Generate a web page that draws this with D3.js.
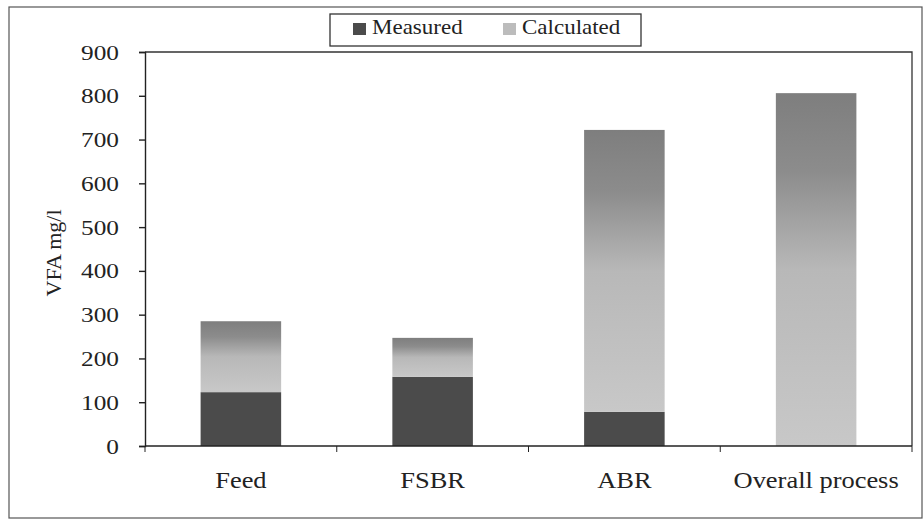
<!DOCTYPE html>
<html>
<head>
<meta charset="utf-8">
<script src="https://cdn.jsdelivr.net/npm/d3@7"></script>
<style>
  body { margin: 0; background: #fff; }
  text { font-family: "Liberation Serif", "Times New Roman", Times, serif; fill: #222; }
</style>
</head>
<body>
<svg id="chart"></svg>
<script>
const width = 924;
const height = 522;

const categories = ["Feed", "FSBR", "ABR", "Overall process"];
const measured = [123, 158, 78, 0];
const calculated = [162, 89, 644, 806];
const seriesNames = ["Measured", "Calculated"];
const yTicks = [0, 100, 200, 300, 400, 500, 600, 700, 800, 900];

const margin = { left: 145, right: 12, top: 52, bottom: 76 };
const stretch = 1.15; // scanned text is a little wider than the font

const svg = d3.select("#chart")
  .attr("width", width)
  .attr("height", height);

// gradient for the scanned "calculated" fill
const defs = svg.append("defs");
const grad = defs.append("linearGradient")
  .attr("id", "calcFill")
  .attr("x1", 0).attr("y1", 0).attr("x2", 0).attr("y2", 1);
grad.append("stop").attr("offset", "0").attr("stop-color", "#7e7e7e");
grad.append("stop").attr("offset", "0.22").attr("stop-color", "#8c8c8c");
grad.append("stop").attr("offset", "0.5").attr("stop-color", "#b8b8b8");
grad.append("stop").attr("offset", "1").attr("stop-color", "#c8c8c8");

const colors = { Measured: "#4b4b4b", Calculated: "url(#calcFill)" };

// outer frame
svg.append("rect")
  .attr("x", 9).attr("y", 7)
  .attr("width", 913).attr("height", 511)
  .attr("fill", "none")
  .attr("stroke", "#555")
  .attr("stroke-width", 1.2);

const x = d3.scaleBand()
  .domain(categories)
  .range([margin.left, width - margin.right])
  .paddingInner(0.58)
  .paddingOuter(0.29);

const y = d3.scaleLinear()
  .domain([0, 900])
  .range([height - margin.bottom, margin.top]);

// plot frame: top and right
svg.append("path")
  .attr("d", `M${margin.left},${margin.top}H${width - margin.right}V${height - margin.bottom}`)
  .attr("fill", "none")
  .attr("stroke", "#333")
  .attr("stroke-width", 1.3);

const rows = categories.map((c, i) => ({ cat: c, Measured: measured[i], Calculated: calculated[i] }));
const stacked = d3.stack().keys(seriesNames)(rows);

svg.append("g")
  .selectAll("g")
  .data(stacked)
  .join("g")
  .attr("fill", d => colors[d.key])
  .selectAll("rect")
  .data(d => d.filter(p => p[1] > p[0]))
  .join("rect")
  .attr("x", d => x(d.data.cat))
  .attr("y", d => y(d[1]))
  .attr("width", x.bandwidth())
  .attr("height", d => y(d[0]) - y(d[1]));

// y axis
const yAxis = svg.append("g")
  .attr("transform", `translate(${margin.left},0)`)
  .call(d3.axisLeft(y).tickValues(yTicks).tickSize(6).tickFormat(d3.format("d")));
yAxis.attr("font-family", null);
yAxis.selectAll("text")
  .attr("font-size", 22)
  .attr("x", 0)
  .attr("transform", `translate(-26,0) scale(${stretch},1)`);
yAxis.selectAll("line, path").attr("stroke", "#222").attr("stroke-width", 1.4);

// x axis with ticks between categories
const xAxisG = svg.append("g")
  .attr("transform", `translate(0,${height - margin.bottom})`);
xAxisG.append("line")
  .attr("x1", margin.left).attr("x2", width - margin.right)
  .attr("stroke", "#222").attr("stroke-width", 1.4);
const step = x.step();
const edges = categories.map(c => x(c) - (step - x.bandwidth()) / 2).concat([width - margin.right]);
xAxisG.selectAll(".edge")
  .data(edges)
  .join("line")
  .attr("x1", d => d).attr("x2", d => d)
  .attr("y1", 0).attr("y2", 6)
  .attr("stroke", "#222");
xAxisG.selectAll(".cat")
  .data(categories)
  .join("text")
  .attr("transform", d => `translate(${x(d) + x.bandwidth() / 2},42) scale(${stretch},1)`)
  .attr("text-anchor", "middle")
  .attr("font-size", 23)
  .text(d => d);

// y title
svg.append("text")
  .attr("transform", `translate(61,${(margin.top + height - margin.bottom) / 2 + 4}) rotate(-90)`)
  .attr("text-anchor", "middle")
  .attr("font-size", 22)
  .text("VFA mg/l");

// legend
const legend = svg.append("g").attr("transform", "translate(330,14)");
legend.append("rect")
  .attr("width", 311).attr("height", 32)
  .attr("fill", "#fff")
  .attr("stroke", "#333")
  .attr("stroke-width", 1.3);
const legendX = [23, 173];
const legendSwatch = ["#4b4b4b", "#bcbcbc"];
seriesNames.forEach((name, i) => {
  legend.append("rect")
    .attr("x", legendX[i]).attr("y", 9)
    .attr("width", 13).attr("height", 12)
    .attr("fill", legendSwatch[i]);
  legend.append("text")
    .attr("transform", `translate(${legendX[i] + 19},20) scale(${stretch},1)`)
    .attr("font-size", 20)
    .text(name);
});
</script>
</body>
</html>
